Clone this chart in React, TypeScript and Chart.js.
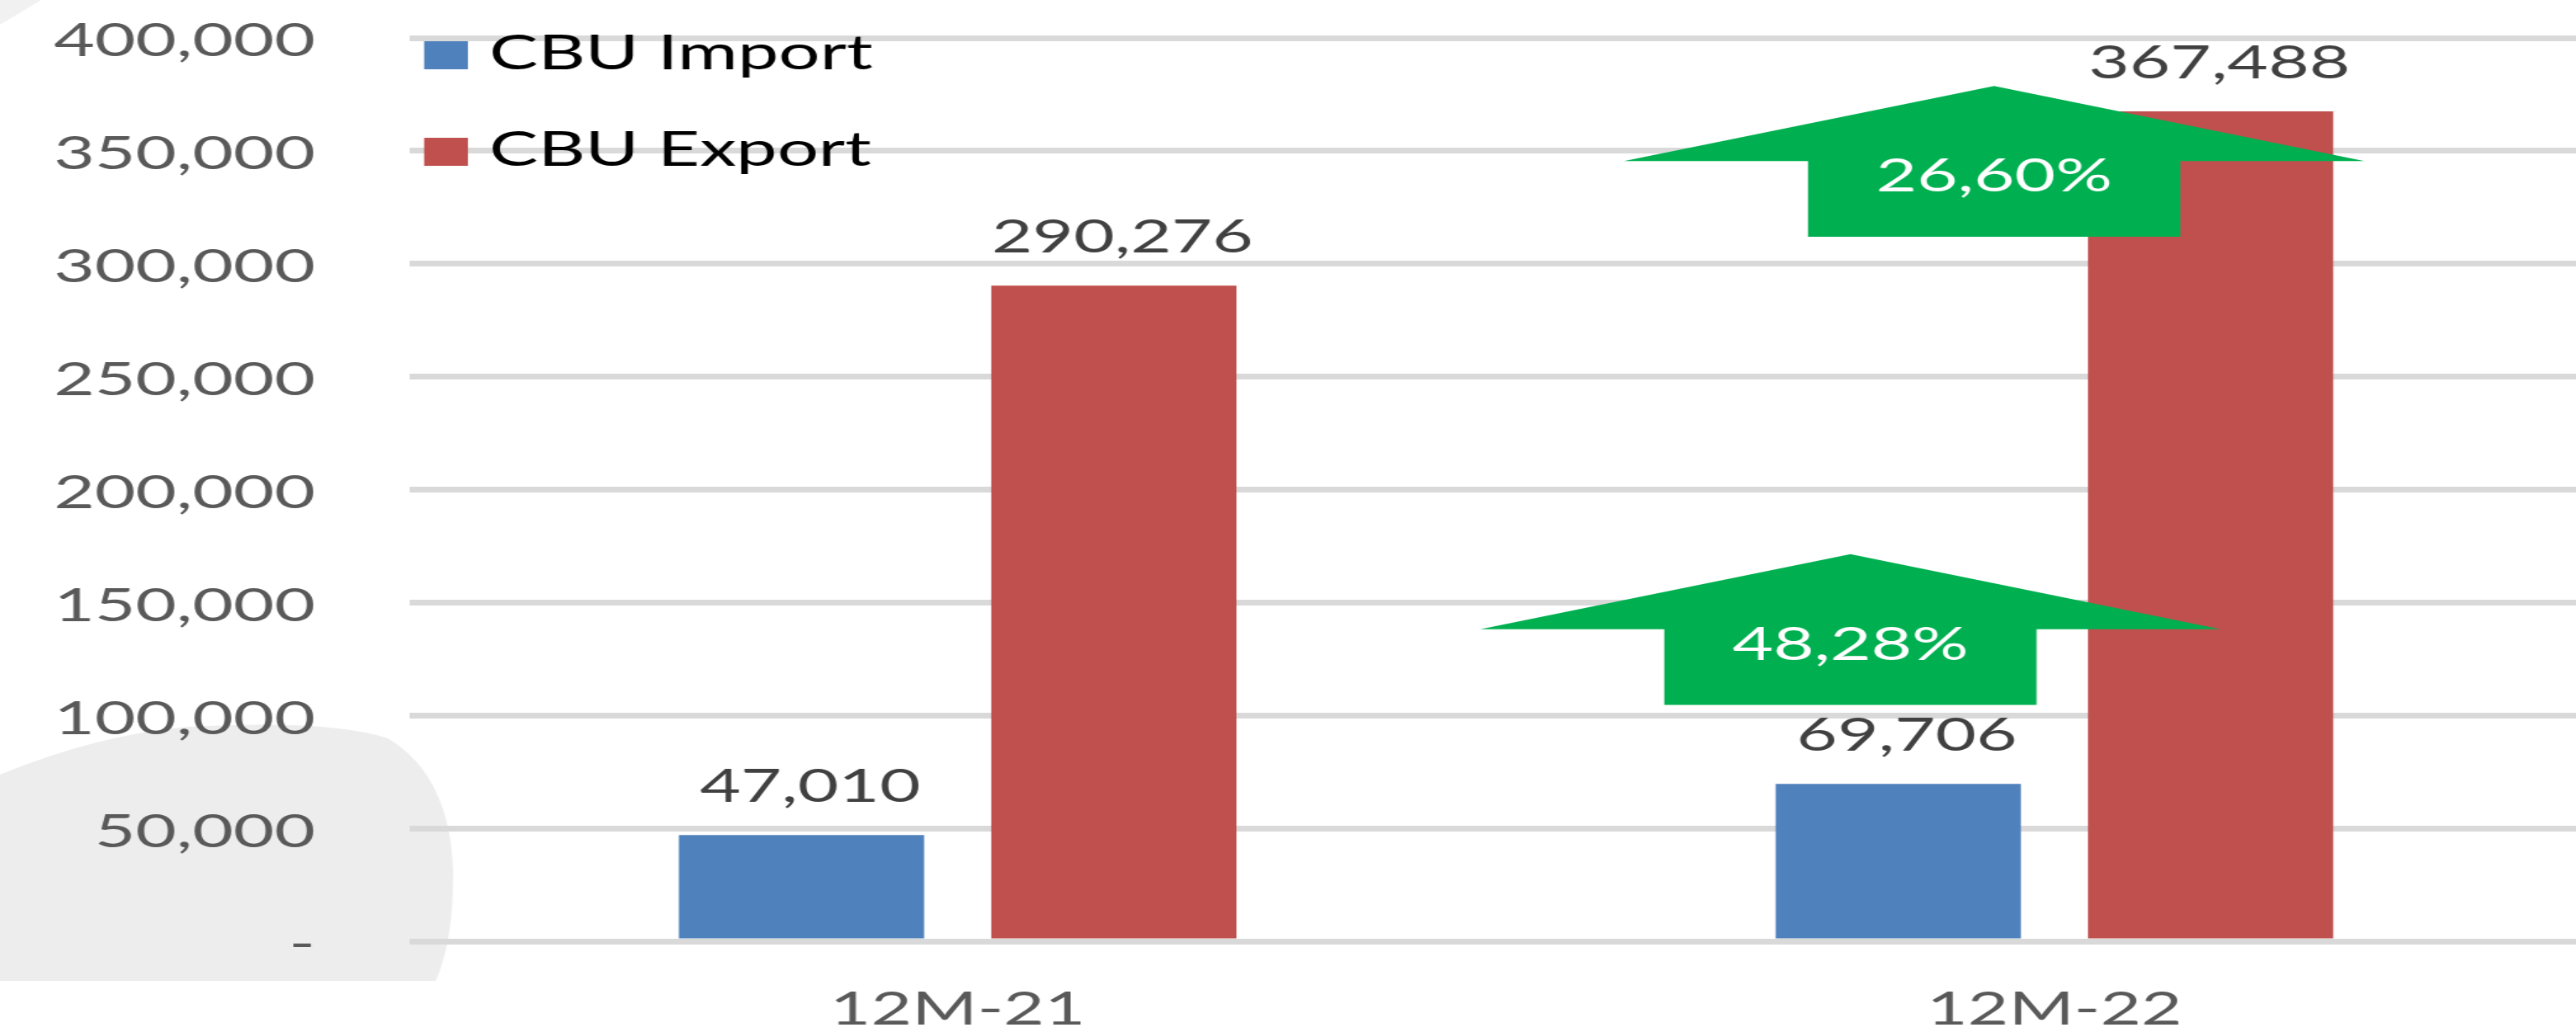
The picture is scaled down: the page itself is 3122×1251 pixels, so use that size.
import React, { useEffect, useRef } from 'react';
import { Chart, registerables } from 'chart.js';

Chart.register(...registerables);

// ---------------- data ----------------
const categories = ['12M-21', '12M-22'];
const seriesNames = ['CBU Import', 'CBU Export'];
const importValues = [47010, 69706];
const exportValues = [290276, 367488];
const yMin = 0;
const yMax = 400000;
const yStep = 50000;

// ---------------- layout / style ----------------
const STRETCH = 1.5; // reference text is horizontally stretched
const CSS_W = 3180;
const H = 1251;
const W = Math.round(CSS_W / STRETCH);
const FONT = 'Lato, "Open Sans", sans-serif';
const COLORS = ['#4F81BD', '#C0504D'];

const fmt = (v: number) => v.toLocaleString('en-US');
const growthText = (a: number, b: number) => ((b / a - 1) * 100).toFixed(2).replace('.', ',') + '%';

// growth-arrow annotations, placed in axis units (category index, value)
const arrowAnnotations = [
  { values: importValues, xPos: 0.814, baseValue: 104700 },
  { values: exportValues, xPos: 0.945, baseValue: 312000 },
];
const ARROW_SHAFT_VALUE = 33500;
const ARROW_HEAD_VALUE = 33200;

const bgPlugin = {
  id: 'bg',
  beforeDraw(chart: any) {
    const ctx = chart.ctx;
    ctx.save();
    ctx.fillStyle = '#ffffff';
    ctx.fillRect(0, 0, chart.width, chart.height);
    // decorative gray blob bottom-left
    const s = 1 / STRETCH;
    ctx.fillStyle = '#EDEDED';
    ctx.beginPath();
    ctx.moveTo(0, 1189);
    ctx.lineTo(0, 939);
    ctx.quadraticCurveTo(120 * s, 890, 228 * s, 881);
    ctx.quadraticCurveTo(400 * s, 872, 470 * s, 895);
    ctx.quadraticCurveTo(545 * s, 940, 549 * s, 1055);
    ctx.quadraticCurveTo(550 * s, 1140, 528 * s, 1189);
    ctx.closePath();
    ctx.fill();
    // faint corner shade top-left
    ctx.fillStyle = 'rgba(225,225,225,0.45)';
    ctx.beginPath();
    ctx.moveTo(0, 0);
    ctx.lineTo(50 * s, 0);
    ctx.lineTo(0, 30);
    ctx.closePath();
    ctx.fill();
    ctx.restore();
  },
};

const valueLabelPlugin = {
  id: 'valueLabels',
  afterDatasetsDraw(chart: any) {
    const ctx = chart.ctx;
    ctx.save();
    ctx.font = `57px ${FONT}`;
    ctx.fillStyle = '#404040';
    ctx.textAlign = 'center';
    ctx.textBaseline = 'alphabetic';
    chart.data.datasets.forEach((ds: any, i: number) => {
      const meta = chart.getDatasetMeta(i);
      meta.data.forEach((bar: any, j: number) => {
        ctx.fillText(fmt(ds.data[j]), bar.x + 7, bar.y - 40);
      });
    });
    ctx.restore();
  },
};

const arrowPlugin = {
  id: 'arrows',
  afterDatasetsDraw(chart: any) {
    const ctx = chart.ctx;
    const xs = chart.scales.x;
    const ys = chart.scales.y;
    const catW = xs.getPixelForValue(1) - xs.getPixelForValue(0);
    ctx.save();
    arrowAnnotations.forEach((a) => {
      const cx = xs.getPixelForValue(a.xPos);
      const headHalf = catW * 0.3375;
      const shaftHalf = catW * 0.1697;
      const yB = ys.getPixelForValue(a.baseValue);
      const yS = ys.getPixelForValue(a.baseValue + ARROW_SHAFT_VALUE);
      const yT = ys.getPixelForValue(a.baseValue + ARROW_SHAFT_VALUE + ARROW_HEAD_VALUE);
      ctx.fillStyle = '#00B050';
      ctx.beginPath();
      ctx.moveTo(cx - shaftHalf, yB);
      ctx.lineTo(cx - shaftHalf, yS);
      ctx.lineTo(cx - headHalf, yS);
      ctx.lineTo(cx, yT);
      ctx.lineTo(cx + headHalf, yS);
      ctx.lineTo(cx + shaftHalf, yS);
      ctx.lineTo(cx + shaftHalf, yB);
      ctx.closePath();
      ctx.fill();
      ctx.fillStyle = '#ffffff';
      ctx.font = `57px ${FONT}`;
      ctx.textAlign = 'center';
      ctx.textBaseline = 'alphabetic';
      ctx.fillText(growthText(a.values[0], a.values[1]), cx, yS + 37);
    });
    ctx.restore();
  },
};

const legendPlugin = {
  id: 'insideLegend',
  afterDatasetsDraw(chart: any) {
    const ctx = chart.ctx;
    const { left, top } = chart.chartArea;
    ctx.save();
    ctx.font = `59px ${FONT}`;
    ctx.textAlign = 'left';
    ctx.textBaseline = 'alphabetic';
    chart.data.datasets.forEach((ds: any, i: number) => {
      const y0 = top + 4 + i * 117;
      ctx.fillStyle = ds.backgroundColor;
      ctx.fillRect(left + 12, y0, 35.3, 34);
      ctx.fillStyle = '#000000';
      ctx.fillText(ds.label, left + 64.6, y0 + 34);
    });
    ctx.restore();
  },
};

export default function App() {
  const ref = useRef<HTMLCanvasElement>(null);
  useEffect(() => {
    document.body.style.margin = '0';
    document.body.style.overflow = 'hidden';
    const tickFont = { family: FONT, size: 57 };
    const chart = new Chart(ref.current as HTMLCanvasElement, {
      type: 'bar',
      data: {
        labels: categories,
        datasets: [
          {
            label: seriesNames[0],
            data: importValues,
            backgroundColor: COLORS[0],
            borderWidth: 0,
            categoryPercentage: 0.5696,
            barPercentage: 0.785,
          },
          {
            label: seriesNames[1],
            data: exportValues,
            backgroundColor: COLORS[1],
            borderWidth: 0,
            categoryPercentage: 0.5696,
            barPercentage: 0.785,
          },
        ],
      },
      options: {
        responsive: false,
        animation: false,
        devicePixelRatio: 1,
        layout: { padding: { left: 0, right: 17, top: 46, bottom: 0 } },
        plugins: {
          legend: { display: false },
          tooltip: { enabled: false },
          title: { display: false },
        },
        scales: {
          x: {
            grid: { display: false },
            border: { display: false },
            ticks: { font: tickFont, color: '#595959', padding: 40 },
            afterFit: (s: any) => {
              s.height = 110;
              s.paddingLeft = 0;
              s.paddingRight = 0;
            },
          },
          y: {
            min: yMin,
            max: yMax,
            ticks: {
              stepSize: yStep,
              font: tickFont,
              color: '#595959',
              padding: 76,
              labelOffset: 4,
              callback: (v: any) => (Number(v) === 0 ? '-' : fmt(Number(v))),
            },
            grid: { color: '#D9D9D9', lineWidth: 7, drawTicks: false },
            border: { display: false },
            afterFit: (s: any) => {
              s.width = 330.7;
              s.paddingTop = 0;
              s.paddingBottom = 0;
            },
          },
        },
      } as any,
      plugins: [bgPlugin, valueLabelPlugin, arrowPlugin, legendPlugin],
    });
    return () => chart.destroy();
  }, []);
  return (
    <div
      style={{
        position: 'fixed',
        left: 0,
        top: 0,
        width: 3122,
        height: 1251,
        overflow: 'hidden',
        background: '#ffffff',
      }}
    >
      <canvas
        ref={ref}
        width={W}
        height={H}
        style={{ width: CSS_W + 'px', height: H + 'px', display: 'block' }}
      />
    </div>
  );
}
